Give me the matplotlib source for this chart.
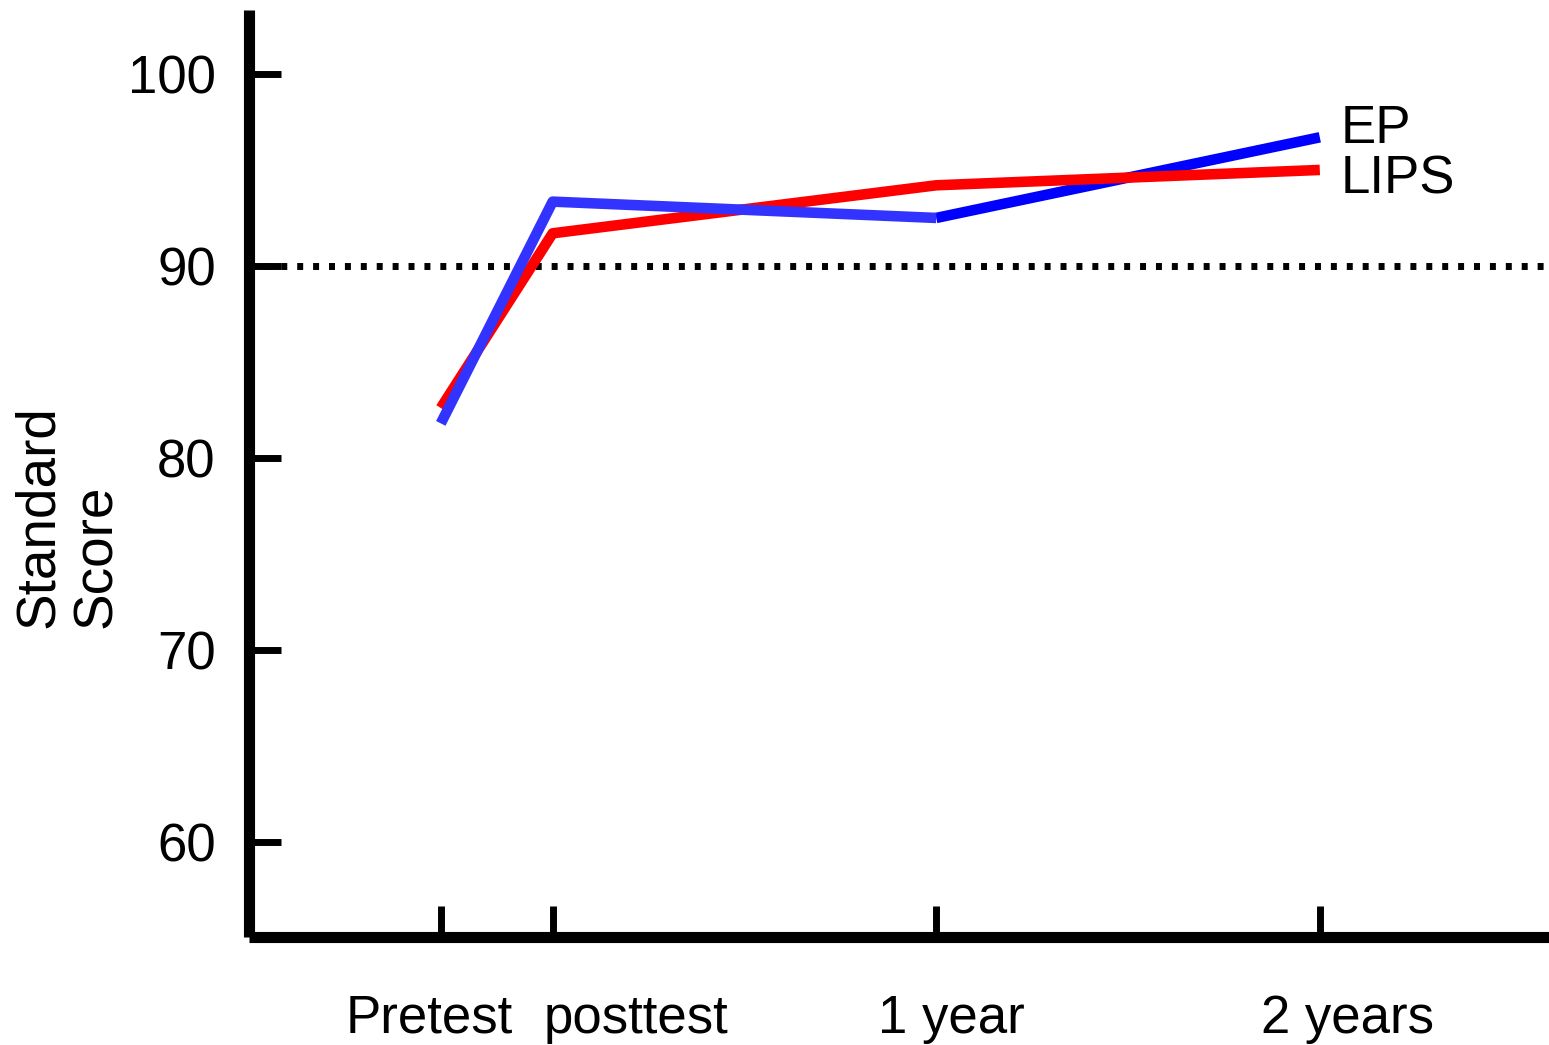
import matplotlib.pyplot as plt
from matplotlib.transforms import offset_copy

plt.rcParams['font.family'] = ['Liberation Sans', 'DejaVu Sans']

# ---- data ----
time_labels = ["Pretest", "posttest", "1 year", "2 years"]
time_pos = [0, 3.5, 15.5, 27.5]          # months-ish spacing as drawn
lips = [82.6, 91.7, 94.2, 95.0]
ep = [81.8, 93.35, 92.5, 96.7]
y_ticks = [60, 70, 80, 90, 100]
cutoff = 90

# ---- style ----
fs = 38
red = "#ff0000"
blue_light = "#3333ff"
blue_dark = "#0000ff"
lw = 7.6

fig = plt.figure(figsize=(15.49, 10.45), dpi=100)
W, H = 1549, 1045
ax = fig.add_axes([249 / W, (H - 937) / H, (W - 249) / W, (937 - 10) / H])

# last EP segment sits under LIPS, the early EP segments on top
ax.plot(time_pos[2:], ep[2:], color=blue_dark, lw=lw, solid_capstyle='butt', zorder=2)
ax.plot(time_pos, lips, color=red, lw=lw, solid_capstyle='butt', zorder=3)
ax.plot(time_pos[:3], ep[:3], color=blue_light, lw=lw, solid_capstyle='butt', zorder=4)

ax.axhline(cutoff, color='black', lw=5, ls=(0, (0.86, 1.43)),
           dash_capstyle='butt', zorder=1)

# end-of-line labels
ax.annotate("EP", (time_pos[-1], ep[-1]), xytext=(15, 6), textcoords='offset points',
            ha='left', va='center', fontsize=fs)
ax.annotate("LIPS", (time_pos[-1], lips[-1]), xytext=(15, -7), textcoords='offset points',
            ha='left', va='center', fontsize=fs)

ax.set_xlim(-6.0, 34.67)
ax.set_ylim(55.05, 103.33)

ax.set_yticks(y_ticks, labels=[str(v) for v in y_ticks])
ax.set_xticks(time_pos, labels=time_labels)

ax.tick_params(axis='both', direction='in', width=5, labelsize=fs, color='black')
ax.tick_params(axis='y', length=23, pad=24)
ax.tick_params(axis='x', length=22, pad=41)

# nudge x labels like the original layout
x_label_shift = [-8, 60, 11, 20]
for lab, dx in zip(ax.get_xticklabels(), x_label_shift):
    lab.set_transform(offset_copy(lab.get_transform(), fig=fig, x=dx, units='points'))

for side in ["top", "right"]:
    ax.spines[side].set_visible(False)
for side in ["left", "bottom"]:
    ax.spines[side].set_linewidth(8)
    ax.spines[side].set_capstyle('butt')

fig.text(68 / W, 1 - 628 / H, "Standard\nScore", rotation=90, fontsize=39.5,
         ha='center', va='bottom', multialignment='left', linespacing=1.15)

fig.savefig("out.png", dpi=100)
